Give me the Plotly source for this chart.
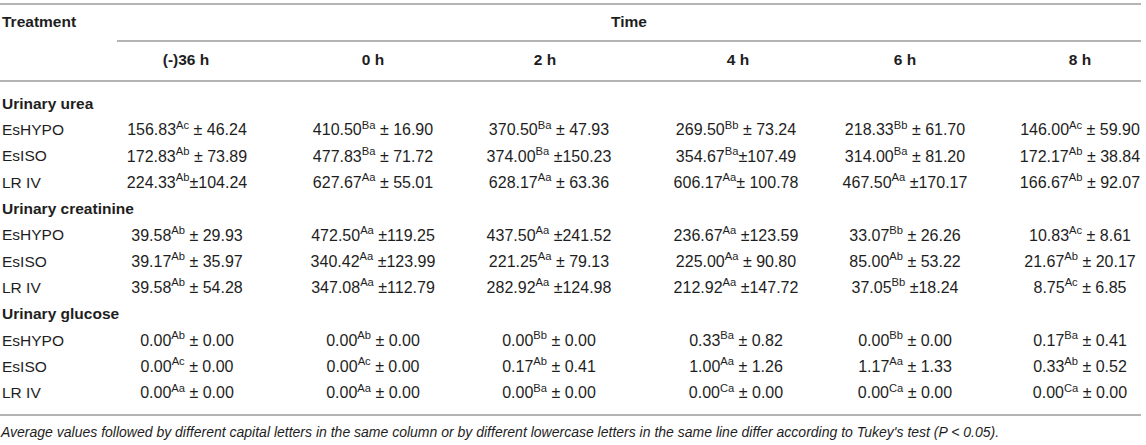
import plotly.graph_objects as go

# ---- table content ----
TIMES = ["(-)36 h", "0 h", "2 h", "4 h", "6 h", "8 h"]
TREATMENTS = ["EsHYPO", "EsISO", "LR IV"]
PARAMETERS = ["Urinary urea", "Urinary creatinine", "Urinary glucose"]

UREA_MEAN = [
    [156.83, 410.50, 370.50, 269.50, 218.33, 146.00],
    [172.83, 477.83, 374.00, 354.67, 314.00, 172.17],
    [224.33, 627.67, 628.17, 606.17, 467.50, 166.67],
]
UREA_SD = [
    [46.24, 16.90, 47.93, 73.24, 61.70, 59.90],
    [73.89, 71.72, 150.23, 107.49, 81.20, 38.84],
    [104.24, 55.01, 63.36, 100.78, 170.17, 92.07],
]
UREA_LETTERS = [
    ["Ac", "Ba", "Ba", "Bb", "Bb", "Ac"],
    ["Ab", "Ba", "Ba", "Ba", "Ba", "Ab"],
    ["Ab", "Aa", "Aa", "Aa", "Aa", "Ab"],
]

CREAT_MEAN = [
    [39.58, 472.50, 437.50, 236.67, 33.07, 10.83],
    [39.17, 340.42, 221.25, 225.00, 85.00, 21.67],
    [39.58, 347.08, 282.92, 212.92, 37.05, 8.75],
]
CREAT_SD = [
    [29.93, 119.25, 241.52, 123.59, 26.26, 8.61],
    [35.97, 123.99, 79.13, 90.80, 53.22, 20.17],
    [54.28, 112.79, 124.98, 147.72, 18.24, 6.85],
]
CREAT_LETTERS = [
    ["Ab", "Aa", "Aa", "Aa", "Bb", "Ac"],
    ["Ab", "Aa", "Aa", "Aa", "Ab", "Ab"],
    ["Ab", "Aa", "Aa", "Aa", "Bb", "Ac"],
]

GLUC_MEAN = [
    [0.00, 0.00, 0.00, 0.33, 0.00, 0.17],
    [0.00, 0.00, 0.17, 1.00, 1.17, 0.33],
    [0.00, 0.00, 0.00, 0.00, 0.00, 0.00],
]
GLUC_SD = [
    [0.00, 0.00, 0.00, 0.82, 0.00, 0.41],
    [0.00, 0.00, 0.41, 1.26, 1.33, 0.52],
    [0.00, 0.00, 0.00, 0.00, 0.00, 0.00],
]
GLUC_LETTERS = [
    ["Ab", "Ab", "Bb", "Ba", "Bb", "Ba"],
    ["Ac", "Ac", "Ab", "Aa", "Aa", "Ab"],
    ["Aa", "Aa", "Ba", "Ca", "Ca", "Ca"],
]

# separators as typeset in the source table (parameter, treatment, time index)
SEP_EXCEPTIONS = {
    (0, 2, 0): "\u00b1",
    (0, 1, 3): "\u00b1",
    (0, 2, 3): "\u00b1 ",
    (1, 2, 4): " \u00b1",
}

FOOTNOTE = ("<i>Average values followed by different capital letters in the same column or by "
            "different lowercase letters in the same line differ according to Tukey's test "
            "(P < 0.05).</i>")

# ---- layout constants (pixel space) ----
W, H = 1146, 445
FONT = "Liberation Sans, Arial, Helvetica, sans-serif"
TXT = "#1e1e1e"
RULE = "#b4b4b4"
FS = 15.5
HEAD_X = [186, 373, 545, 738, 905, 1080]
CELL_X = [187, 373, 549, 736, 905, 1080]
ROW0, ROW_STEP = 105, 26.3

blocks = [
    (UREA_MEAN, UREA_SD, UREA_LETTERS),
    (CREAT_MEAN, CREAT_SD, CREAT_LETTERS),
    (GLUC_MEAN, GLUC_SD, GLUC_LETTERS),
]

lab_x, lab_y, lab_t = [], [], []
cx, cy, ct = [], [], []
row = 0
for p, (means, sds, letters) in enumerate(blocks):
    lab_x.append(2)
    lab_y.append(ROW0 + row * ROW_STEP)
    lab_t.append(f"<b>{PARAMETERS[p]}</b>")
    row += 1
    for t, treat in enumerate(TREATMENTS):
        y = ROW0 + row * ROW_STEP
        lab_x.append(2)
        lab_y.append(y)
        lab_t.append(treat)
        for j in range(len(TIMES)):
            sd = sds[t][j]
            sep = " \u00b1" if sd >= 100 else " \u00b1 "
            sep = SEP_EXCEPTIONS.get((p, t, j), sep)
            cx.append(CELL_X[j])
            cy.append(y)
            ct.append(f"{means[t][j]:.2f}<sup>{letters[t][j]}</sup>{sep}{sd:.2f}")
        row += 1

fig = go.Figure()

# row labels
fig.add_trace(go.Scatter(
    x=lab_x, y=lab_y, text=lab_t, mode="text",
    textposition="middle right", cliponaxis=False,
    textfont=dict(family=FONT, size=FS, color=TXT),
    hoverinfo="skip", showlegend=False,
))

# cell values
fig.add_trace(go.Scatter(
    x=cx, y=cy, text=ct, mode="text",
    textposition="middle center", cliponaxis=False,
    textfont=dict(family=FONT, size=16, color=TXT),
    hoverinfo="skip", showlegend=False,
))

# header texts
fig.add_trace(go.Scatter(
    x=HEAD_X, y=[61] * len(TIMES), text=[f"<b>{t}</b>" for t in TIMES], mode="text",
    textposition="middle center", cliponaxis=False,
    textfont=dict(family=FONT, size=FS, color=TXT),
    hoverinfo="skip", showlegend=False,
))
fig.add_trace(go.Scatter(
    x=[2, 629], y=[23, 23], text=["<b>Treatment</b>", "<b>Time</b>"], mode="text",
    textposition=["middle right", "middle center"], cliponaxis=False,
    textfont=dict(family=FONT, size=FS, color=TXT),
    hoverinfo="skip", showlegend=False,
))

# footnote
fig.add_trace(go.Scatter(
    x=[1], y=[433], text=[FOOTNOTE], mode="text",
    textposition="middle right", cliponaxis=False,
    textfont=dict(family=FONT, size=14, color=TXT),
    hoverinfo="skip", showlegend=False,
))

# horizontal rules
for x0, x1, yy in [(0, 1141, 4), (117, 1141, 41), (0, 1141, 81), (0, 1141, 415)]:
    fig.add_shape(type="line", xref="x", yref="y", x0=x0, x1=x1, y0=yy, y1=yy,
                  line=dict(color=RULE, width=2))

fig.update_xaxes(range=[0, W], visible=False, fixedrange=True)
fig.update_yaxes(range=[H, 0], visible=False, fixedrange=True)
fig.update_layout(
    width=W, height=H,
    margin=dict(l=0, r=0, t=0, b=0),
    plot_bgcolor="white", paper_bgcolor="white",
)

# drop the default page margin so the table sits flush with the window
fig.write_html("out.html", config=dict(displayModeBar=False),
               post_script="document.body.style.margin='0';")
